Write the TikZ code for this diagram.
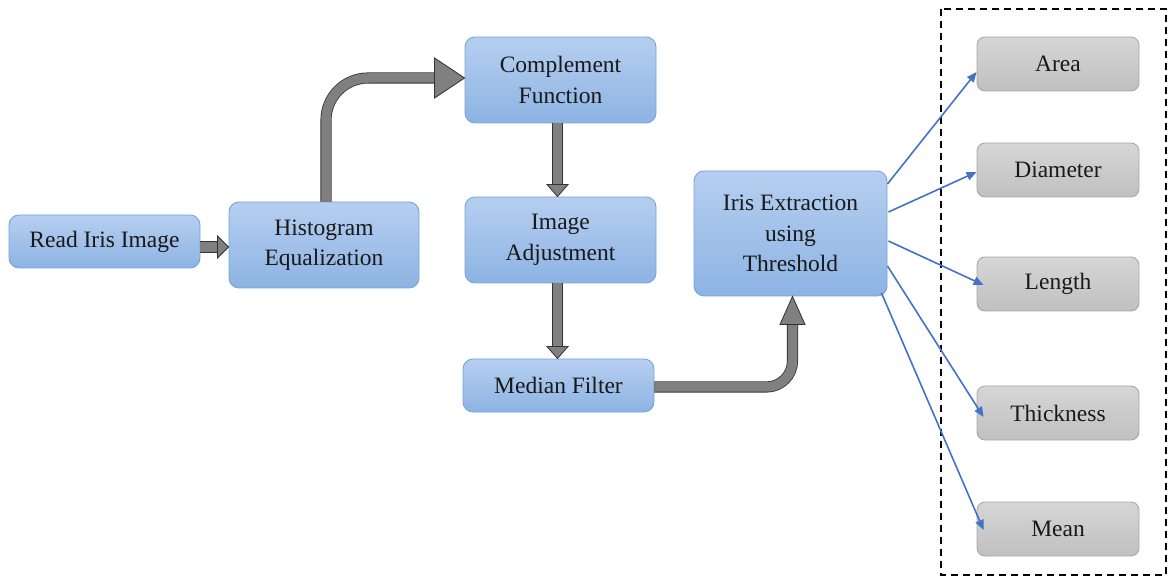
\documentclass[tikz,border=0pt]{standalone}
\usepackage{fontspec}
\setmainfont{Liberation Serif}
\usetikzlibrary{arrows.meta,calc}
\definecolor{bluetop}{RGB}{182,207,240}
\definecolor{bluebot}{RGB}{141,179,227}
\definecolor{blueedge}{RGB}{118,164,219}
\definecolor{graytop}{RGB}{214,214,214}
\definecolor{graybot}{RGB}{192,192,192}
\definecolor{grayedge}{RGB}{168,168,168}
\definecolor{arrowgray}{RGB}{128,128,128}
\definecolor{linkblue}{RGB}{68,114,196}
\definecolor{txt}{RGB}{25,25,25}
\begin{document}
\begin{tikzpicture}[x=1pt,y=-1pt,
  bbox/.style={draw=blueedge, line width=0.9pt, rounded corners=10pt,
    top color=bluetop, bottom color=bluebot, align=center, text=txt,
    font=\fontsize{23.5}{30.5}\selectfont, inner sep=0pt},
  gbox/.style={draw=grayedge, line width=0.9pt, rounded corners=8pt,
    top color=graytop, bottom color=graybot, text=txt,
    minimum width=162pt, minimum height=54pt,
    font=\fontsize{23.5}{30}\selectfont, inner sep=0pt},
  shaft/.style={draw=black!80, line width=0.8pt, double=arrowgray, double distance=9.5pt},
  bhead/.style={draw=black!80, line width=0.8pt, fill=arrowgray, line join=miter},
  link/.style={draw=linkblue, line width=1.6pt, -{Triangle[length=10pt,width=8.5pt]}}
]
\useasboundingbox (0,0) rectangle (1168,577);

% process boxes
\node[bbox, minimum width=191pt, minimum height=53pt] (read) at (104.5,241.5) {Read Iris Image};
\node[bbox, minimum width=190pt, minimum height=86pt] (hist) at (324,245) {Histogram\\Equalization};
\node[bbox, minimum width=191pt, minimum height=86pt] (comp) at (560.5,80) {Complement\\Function};
\node[bbox, minimum width=191pt, minimum height=86pt] (adj) at (560.5,240) {Image\\Adjustment};
\node[bbox, minimum width=191pt, minimum height=53pt] (med) at (558.5,385.5) {Median Filter};
\node[bbox, minimum width=193pt, minimum height=125pt] (iris) at (790.5,233.5) {Iris Extraction\\using\\Threshold};

% feature boxes
\node[gbox] (area) at (1058,64) {Area};
\node[gbox] (diam) at (1058,170) {Diameter};
\node[gbox] (len) at (1058,284) {Length};
\node[gbox] (thick) at (1058,413) {Thickness};
\node[gbox] (mean) at (1058,529) {Mean};

% dashed frame
\draw[line width=1.8pt, dash pattern=on 7pt off 5pt] (941,9) rectangle (1166,575);

% block arrow: read -> hist
\coordinate (t1) at ($(hist.west)+(0,2)$);
\draw[shaft] (read.east |- t1) -- ($(t1)+(-11,0)$);
\draw[bhead] ($(t1)+(-11,-11)$) -- (t1) -- ($(t1)+(-11,11)$) -- cycle;

% block arrow: hist -> comp (curved)
\coordinate (t2) at ($(comp.west)+(0,-2)$);
\draw[shaft, rounded corners=42pt] ($(hist.north)+(2,0)$) |- ($(t2)+(-30,0)$);
\draw[bhead] ($(t2)+(-30,-20)$) -- (t2) -- ($(t2)+(-30,20)$) -- cycle;

% block arrow: comp -> adj
\coordinate (t3) at ($(adj.north)+(-3,0)$);
\draw[shaft] (comp.south -| t3) -- ($(t3)+(0,-12)$);
\draw[bhead] ($(t3)+(-10.5,-12)$) -- (t3) -- ($(t3)+(10.5,-12)$) -- cycle;

% block arrow: adj -> med
\coordinate (t4) at ($(med.north)+(-1,0)$);
\draw[shaft] (adj.south -| t4) -- ($(t4)+(0,-12)$);
\draw[bhead] ($(t4)+(-10.5,-12)$) -- (t4) -- ($(t4)+(10.5,-12)$) -- cycle;

% block arrow: med -> iris (curved)
\coordinate (t5) at ($(iris.south)+(2,0)$);
\draw[shaft, rounded corners=26pt] ($(med.east)+(0,1.5)$) -| ($(t5)+(0,28)$);
\draw[bhead] ($(t5)+(-12.5,28)$) -- (t5) -- ($(t5)+(12.5,28)$) -- cycle;

% feature links
\draw[link] ($(iris.east)+(0,-49.5)$) -- ($(area.west)+(0,8)$);
\draw[link] ($(iris.east)+(1,-21.5)$) -- ($(diam.west)+(0,2)$);
\draw[link] ($(iris.east)+(1,7.5)$) -- ($(len.west)+(7,1)$);
\draw[link] ($(iris.east)+(0,32.5)$) -- ($(thick.west)+(7,4)$);
\draw[link] ($(iris.east)+(-6,59.5)$) -- ($(mean.west)+(7,1)$);
\end{tikzpicture}
\end{document}
